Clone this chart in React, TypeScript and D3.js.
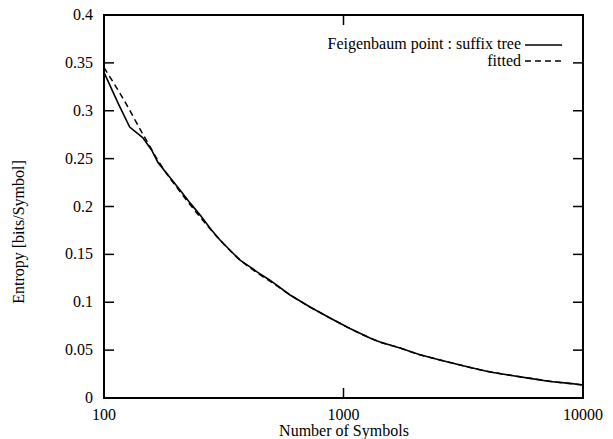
import React, { useEffect, useRef } from "react";
import * as d3 from "d3";

// suffix tree entropy estimate
const treeN = [100, 115, 128, 145, 158, 168, 185, 208, 230, 252, 280, 305, 340, 370, 407, 440, 493, 598, 725, 878, 1064, 1290, 1420, 1721, 2086, 2529, 3065, 3679, 4090, 4958, 6008, 7284, 8826, 10000];
const treeH = [0.340, 0.307, 0.283, 0.272, 0.259, 0.246, 0.233, 0.217, 0.203, 0.191, 0.176, 0.165, 0.153, 0.144, 0.137, 0.131, 0.123, 0.1076, 0.095, 0.0836, 0.0725, 0.0627, 0.0585, 0.0522, 0.0452, 0.0397, 0.0345, 0.0297, 0.0272, 0.0238, 0.0205, 0.0172, 0.0153, 0.0136];

// fitted curve
const fitN = [100, 120, 145, 170, 210, 250, 305, 370, 440, 500, 600, 725, 880, 1064, 1420, 1721, 2100, 2530, 3070, 3680, 4960, 6000, 7300, 10000];
const fitH = [0.345, 0.313, 0.276, 0.246, 0.214, 0.190, 0.165, 0.144, 0.130, 0.121, 0.1075, 0.095, 0.0835, 0.0725, 0.0585, 0.0522, 0.0449, 0.0397, 0.0345, 0.0297, 0.0238, 0.0207, 0.0175, 0.0136];

const xTicks = [100, 1000, 10000];
const yTicks = [0, 0.05, 0.1, 0.15, 0.2, 0.25, 0.3, 0.35, 0.4];

const W = 613;
const H = 439;
const font = "'Liberation Serif', 'Times New Roman', 'DejaVu Serif', Times, serif";
const fs = 16;

export default function App() {
  const ref = useRef<SVGSVGElement | null>(null);

  useEffect(() => {
    if (!ref.current) return;
    const svg = d3.select(ref.current);
    svg.selectAll("*").remove();

    const m = { left: 104, right: 583, top: 15, bottom: 398 };

    const x = d3.scaleLog().domain([100, 10000]).range([m.left, m.right]);
    const y = d3.scaleLinear().domain([0, 0.4]).range([m.bottom, m.top]);

    const g = svg.append("g");

    // ticks
    const tl = 10;
    yTicks.forEach((t) => {
      if (t === 0 || t === 0.4) return;
      g.append("line").attr("x1", m.left).attr("x2", m.left + tl).attr("y1", y(t)).attr("y2", y(t)).attr("stroke", "#000").attr("stroke-width", 1.5);
      g.append("line").attr("x1", m.right).attr("x2", m.right - tl).attr("y1", y(t)).attr("y2", y(t)).attr("stroke", "#000").attr("stroke-width", 1.5);
    });
    xTicks.forEach((t) => {
      if (t === 100 || t === 10000) return;
      g.append("line").attr("x1", x(t)).attr("x2", x(t)).attr("y1", m.bottom).attr("y2", m.bottom - tl).attr("stroke", "#000").attr("stroke-width", 1.5);
      g.append("line").attr("x1", x(t)).attr("x2", x(t)).attr("y1", m.top).attr("y2", m.top + tl).attr("stroke", "#000").attr("stroke-width", 1.5);
    });

    // frame
    g.append("rect")
      .attr("x", m.left).attr("y", m.top)
      .attr("width", m.right - m.left).attr("height", m.bottom - m.top)
      .attr("fill", "none").attr("stroke", "#000").attr("stroke-width", 2);

    const txt = (xx: number, yy: number, s: string, anchor: string) =>
      g.append("text").attr("x", xx).attr("y", yy)
        .attr("text-anchor", anchor).style("font-family", font).style("font-size", fs + "px")
        .text(s);

    // tick labels
    yTicks.forEach((t) => txt(93, y(t) + 5, String(t), "end"));
    xTicks.forEach((t) => txt(x(t), 420, String(t), "middle"));

    // axis titles
    txt(344, 436, "Number of Symbols", "middle");
    g.append("text")
      .attr("transform", "translate(24,232) rotate(-90)")
      .attr("text-anchor", "middle").style("font-family", font).style("font-size", fs + "px")
      .text("Entropy [bits/Symbol]");

    const line = d3.line<[number, number]>().x((d) => x(d[0])).y((d) => y(d[1]));

    g.append("path")
      .datum(fitN.map((n, i) => [n, fitH[i]] as [number, number]))
      .attr("d", line.curve(d3.curveMonotoneX))
      .attr("fill", "none").attr("stroke", "#000").attr("stroke-width", 1.5)
      .attr("stroke-dasharray", "6,4");

    g.append("path")
      .datum(treeN.map((n, i) => [n, treeH[i]] as [number, number]))
      .attr("d", line.curve(d3.curveLinear))
      .attr("fill", "none").attr("stroke", "#000").attr("stroke-width", 1.6);

    // legend
    txt(521, 49, "Feigenbaum point : suffix tree", "end");
    g.append("line").attr("x1", 525).attr("x2", 562).attr("y1", 45).attr("y2", 45)
      .attr("stroke", "#000").attr("stroke-width", 1.5);
    txt(521, 66, "fitted", "end");
    g.append("line").attr("x1", 525).attr("x2", 562).attr("y1", 61).attr("y2", 61)
      .attr("stroke", "#000").attr("stroke-width", 1.5).attr("stroke-dasharray", "6,4");
  }, []);

  return (
    <svg
      ref={ref}
      width={W}
      height={H}
      style={{ position: "absolute", left: 0, top: 0, background: "#fff" }}
    />
  );
}
